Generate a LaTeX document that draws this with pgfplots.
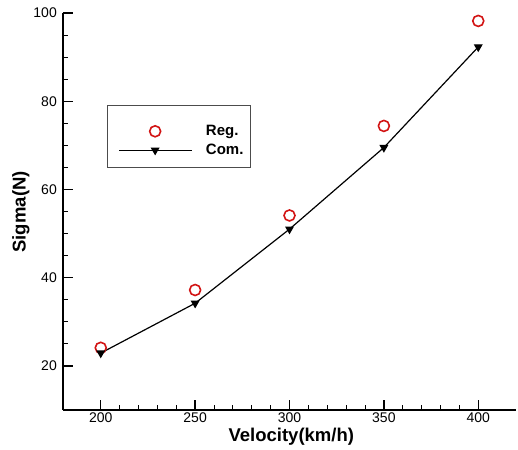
\documentclass[border=0pt]{standalone}
\usepackage{fontspec}
\setmainfont{Liberation Sans}
\usepackage{pgfplots}
\pgfplotsset{compat=1.18}
\definecolor{regred}{RGB}{210,20,20}
\newcommand{\tickfont}{\fontsize{14}{16}\selectfont}

\begin{document}
\begin{tikzpicture}
  \begin{axis}[
    scale only axis,
    width=453pt, height=397pt,
    axis lines=left,
    axis line style={line width=1.3pt,-},
    xmin=180, xmax=420,
    ymin=10, ymax=100,
    xtick={200,250,300,350,400},
    ytick={20,40,60,80,100},
    xticklabels={200,250,300,350,400},
    yticklabels={20,40,60,80,100},
    minor x tick num=4,
    minor y tick num=3,
    tick align=inside,
    major tick length=10pt,
    minor tick length=5pt,
    every major tick/.style={line width=1.3pt,black},
    every minor tick/.style={line width=0.8pt,black},
    xticklabel style={font=\tickfont, inner sep=1pt, yshift=-2pt},
    yticklabel style={font=\tickfont, inner sep=1pt, xshift=-5pt},
    xlabel={\textbf{Velocity(km/h)}},
    ylabel={\textbf{Sigma(N)}},
    label style={font=\fontsize{18.5}{20}\selectfont},
    xlabel style={at={(axis description cs:0.504,-0.068)}, anchor=center},
    ylabel style={at={(axis description cs:-0.0927,0.499)}, anchor=center},
    legend style={at={(0.097,0.768)}, anchor=north west,
      draw=black!70, line width=0.8pt,
      font=\bfseries\fontsize{15}{16}\selectfont,
      inner xsep=5pt, inner ysep=9pt, row sep=3pt},
    legend cell align=left,
  ]
    \addplot[only marks, mark=o, mark size=5.5pt, draw=regred, line width=1.6pt,
      legend image code/.code={\path (-6pt,0pt) (84pt,16pt);
        \draw[mark=o,mark size=5.5pt,draw=regred,line width=1.6pt] plot coordinates {(36pt,0pt)};}]
      coordinates {(200,24.1) (250,37.2) (300,54.1) (350,74.4) (400,98.2)};
    \addlegendentry{Reg.}
    \addplot[black, line width=1.2pt, mark=triangle*, mark size=4pt,
      mark options={rotate=180, fill=black},
      legend image code/.code={\path (-6pt,0pt) (84pt,0pt);
        \draw[line width=1.2pt] (0pt,0pt) -- (73pt,0pt);
        \draw[mark=triangle*,mark size=4pt,mark options={rotate=180,fill=black}] plot coordinates {(36pt,0pt)};}]
      coordinates {(200,22.9) (250,34.2) (300,51.0) (350,69.5) (400,92.3)};
    \addlegendentry{Com.}
  \end{axis}
  \pgfresetboundingbox
  \path ([shift={(-63pt,-40pt)}]current axis.south west) rectangle ([shift={(2pt,13pt)}]current axis.north east);
\end{tikzpicture}
\end{document}
